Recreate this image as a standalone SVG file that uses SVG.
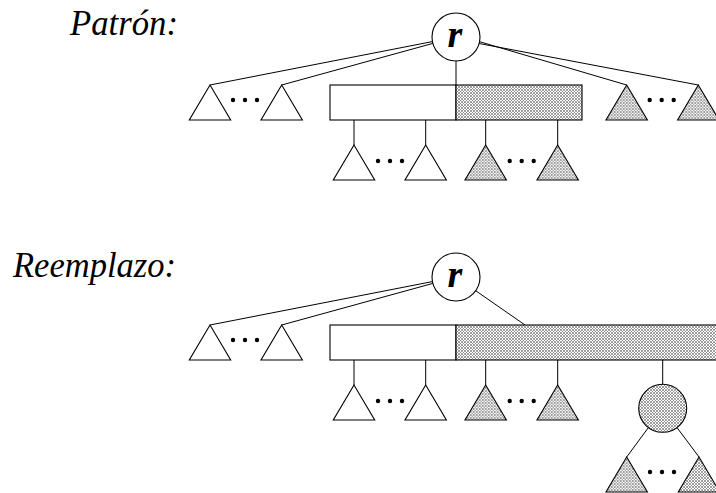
<svg xmlns="http://www.w3.org/2000/svg" width="716" height="493" viewBox="0 0 716 493">
  <defs>
    <pattern id="hatch" width="3" height="3" patternUnits="userSpaceOnUse">
      <rect width="3" height="3" fill="#ffffff"/>
      <path d="M0,0 L3,3 M3,0 L0,3" stroke="#808080" stroke-width="0.75"/>
    </pattern>
    <polygon id="tri" points="0,0 -20.7,35 20.7,35"/>
    <g id="dots">
      <circle cx="-12" cy="0" r="2.2"/>
      <circle cx="0" cy="0" r="2.2"/>
      <circle cx="12" cy="0" r="2.2"/>
    </g>
  </defs>
  <style>
    .title { font-family: "Liberation Serif", "Times New Roman", serif; font-style: italic; font-size: 35px; fill: #000; }
    .lbl { font-family: "Liberation Serif", "Times New Roman", serif; font-style: italic; font-weight: bold; font-size: 38px; fill: #000; text-anchor: middle; }
    .edge { stroke: #000; stroke-width: 1; fill: none; }
    .plain { fill: #fff; stroke: #000; stroke-width: 1.1; }
    .shaded { fill: url(#hatch); stroke: #000; stroke-width: 1.1; }
    .dot { fill: #000; }
  </style>

  <rect width="716" height="493" fill="#fff"/>

  <text class="title" x="70" y="35" textLength="108" lengthAdjust="spacingAndGlyphs">Patrón:</text>
  <text class="title" x="13" y="277" textLength="163" lengthAdjust="spacingAndGlyphs">Reemplazo:</text>

  <!-- Connectors -->
  <g id="connectors" class="edge">
    <!-- pattern tree -->
    <line x1="432.4" y1="41.6" x2="210" y2="85"/>
    <line x1="432.9" y1="43.4" x2="281.7" y2="85"/>
    <line x1="456" y1="61" x2="456" y2="85"/>
    <line x1="479.5" y1="41.7" x2="626.7" y2="85"/>
    <line x1="479.1" y1="43.5" x2="698.3" y2="85"/>
    <line x1="354" y1="120" x2="354" y2="145"/>
    <line x1="425.7" y1="120" x2="425.7" y2="145"/>
    <line x1="485.7" y1="120" x2="485.7" y2="145"/>
    <line x1="557.7" y1="120" x2="557.7" y2="145"/>
    <!-- replacement tree -->
    <line x1="432.4" y1="281.6" x2="210" y2="325"/>
    <line x1="432.9" y1="283.4" x2="281.7" y2="325"/>
    <line x1="475.7" y1="290.7" x2="525" y2="325"/>
    <line x1="354" y1="360" x2="354" y2="385"/>
    <line x1="425.7" y1="360" x2="425.7" y2="385"/>
    <line x1="485.7" y1="360" x2="485.7" y2="385"/>
    <line x1="557.7" y1="360" x2="557.7" y2="385"/>
    <line x1="662.7" y1="360" x2="662.7" y2="384"/>
    <line x1="648.4" y1="427.6" x2="626.7" y2="457"/>
    <line x1="677" y1="427.6" x2="699" y2="457"/>
  </g>

  <!-- Pattern tree -->
  <g id="root-top">
    <circle class="plain" cx="456" cy="37" r="24"/>
    <text class="lbl" x="455" y="47">r</text>
  </g>
  <g id="node-top">
    <rect class="plain" x="330" y="85" width="126" height="35"/>
    <rect class="shaded" x="456" y="85" width="126" height="35"/>
  </g>
  <g id="left-subtrees-top">
    <use href="#tri" x="210" y="85" class="plain"/>
    <use href="#dots" x="245" y="100" class="dot"/>
    <use href="#tri" x="281.7" y="85" class="plain"/>
  </g>
  <g id="right-subtrees-top">
    <use href="#tri" x="626.7" y="85" class="shaded"/>
    <use href="#dots" x="661.7" y="100" class="dot"/>
    <use href="#tri" x="698.3" y="85" class="shaded"/>
  </g>
  <g id="children-plain-top">
    <use href="#tri" x="354" y="145" class="plain"/>
    <use href="#dots" x="390" y="161" class="dot"/>
    <use href="#tri" x="425.7" y="145" class="plain"/>
  </g>
  <g id="children-shaded-top">
    <use href="#tri" x="485.7" y="145" class="shaded"/>
    <use href="#dots" x="521.7" y="161" class="dot"/>
    <use href="#tri" x="557.7" y="145" class="shaded"/>
  </g>

  <!-- Replacement tree -->
  <g id="root-bottom">
    <circle class="plain" cx="456" cy="277" r="24"/>
    <text class="lbl" x="455" y="287">r</text>
  </g>
  <g id="node-bottom">
    <rect class="plain" x="330" y="325" width="126" height="35"/>
    <rect class="shaded" x="456" y="325" width="270" height="35"/>
  </g>
  <g id="left-subtrees-bottom">
    <use href="#tri" x="210" y="325" class="plain"/>
    <use href="#dots" x="245" y="340" class="dot"/>
    <use href="#tri" x="281.7" y="325" class="plain"/>
  </g>
  <g id="children-plain-bottom">
    <use href="#tri" x="354" y="385" class="plain"/>
    <use href="#dots" x="390" y="401" class="dot"/>
    <use href="#tri" x="425.7" y="385" class="plain"/>
  </g>
  <g id="children-shaded-bottom">
    <use href="#tri" x="485.7" y="385" class="shaded"/>
    <use href="#dots" x="521.7" y="401" class="dot"/>
    <use href="#tri" x="557.7" y="385" class="shaded"/>
  </g>
  <g id="moved-node">
    <circle class="shaded" cx="662.7" cy="408.3" r="24"/>
  </g>
  <g id="moved-subtrees">
    <use href="#tri" x="626.7" y="457" class="shaded"/>
    <use href="#dots" x="662" y="472" class="dot"/>
    <use href="#tri" x="699" y="457" class="shaded"/>
  </g>
</svg>
